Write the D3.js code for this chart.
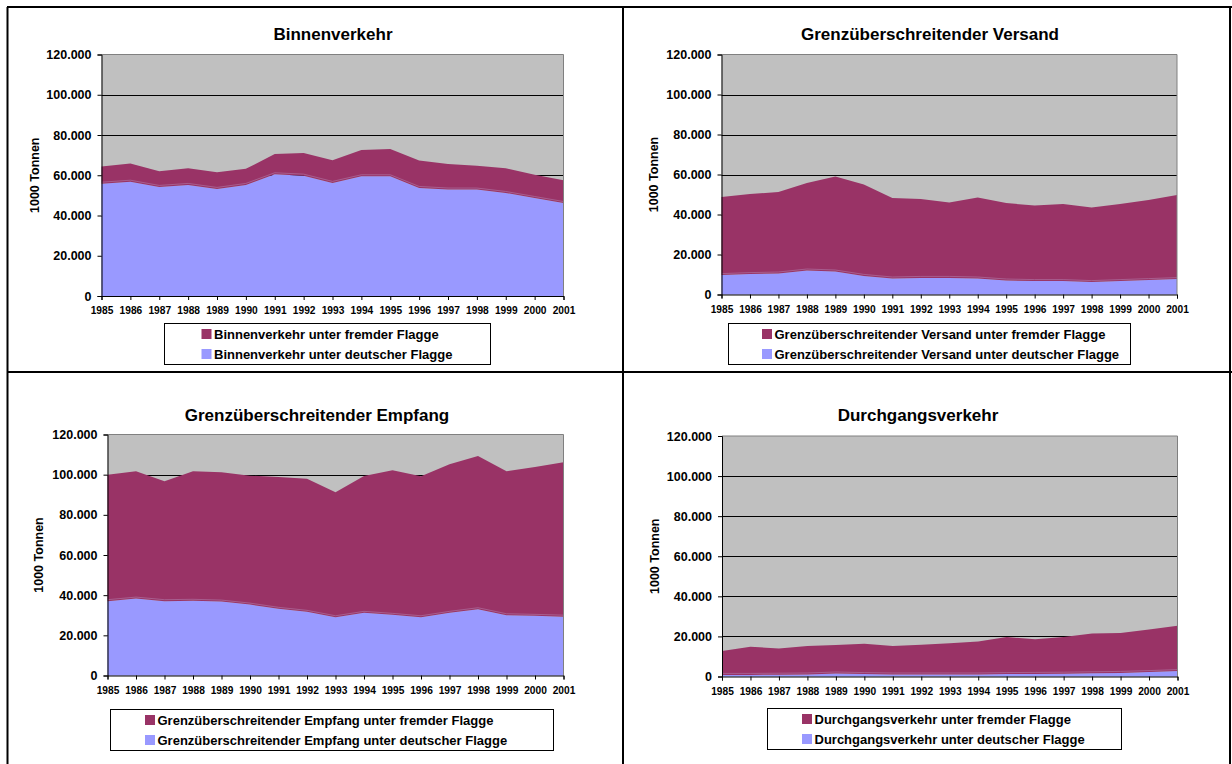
<!DOCTYPE html>
<html><head><meta charset="utf-8">
<script src="https://cdn.jsdelivr.net/npm/d3@7"></script>
<style>body{margin:0;background:#fff}svg{display:block}text{font-family:"Liberation Sans",Arial,sans-serif;font-weight:bold;fill:#000}</style>
</head><body><svg id="c" width="1232" height="764"></svg>
<script>
// ---- data (1000 Tonnen) ----
const years = ["1985","1986","1987","1988","1989","1990","1991","1992","1993","1994","1995","1996","1997","1998","1999","2000","2001"];
const yTicks = [0,20000,40000,60000,80000,100000,120000];
const yTickLabels = ["0","20.000","40.000","60.000","80.000","100.000","120.000"];
const yAxisTitle = "1000 Tonnen";

const binnenDeutsch = [55800,56800,54200,55200,53200,55200,60500,59800,56200,59500,59500,53700,52900,52900,51200,48700,46200];
const binnenFremd   = [8500,9000,7800,8300,8300,8000,10000,11300,11300,13000,13500,13600,12700,11800,12300,11600,11300];

const versandDeutsch = [9700,10200,10500,12000,11500,9300,8000,8300,8300,8000,7000,6700,6700,6200,6700,7200,7700];
const versandFremd   = [39000,40000,40700,43700,47500,45700,40200,39400,37700,40500,38700,37800,38500,37300,38600,40100,42000];

const empfangDeutsch = [37000,38300,37000,37200,36800,35300,33200,31700,29000,31200,30200,29000,31200,33000,30000,29700,29300];
const empfangFremd   = [63000,63400,59700,64500,64400,64200,65600,66300,62300,68100,72000,70200,74000,76300,71700,74100,76900];

const durchDeutsch = [800,800,900,1000,1500,1200,1000,1000,1000,1000,1200,1300,1400,1600,1800,2200,2700];
const durchFremd   = [11900,14000,13100,14200,14200,15100,14200,14800,15600,16500,18500,17300,18300,19900,19900,21200,22600];

const titles = ["Binnenverkehr","Grenzüberschreitender Versand","Grenzüberschreitender Empfang","Durchgangsverkehr"];
const legendFremd = ["Binnenverkehr unter fremder Flagge","Grenzüberschreitender Versand unter fremder Flagge","Grenzüberschreitender Empfang unter fremder Flagge","Durchgangsverkehr unter fremder Flagge"];
const legendDeutsch = ["Binnenverkehr unter deutscher Flagge","Grenzüberschreitender Versand unter deutscher Flagge","Grenzüberschreitender Empfang unter deutscher Flagge","Durchgangsverkehr unter deutscher Flagge"];

// ---- styles / layout ----
const colFremd = "#993366", colDeutsch = "#9999FF", colPlot = "#C0C0C0";
const panels = [
  {d: binnenDeutsch, f: binnenFremd, l:101.5, t:54.5, r:563.5, b:296, tx:333, ty:40, yl:35,
   lg:{x:164.5,y:323.5,w:326,h:41, sw:201.5}},
  {d: versandDeutsch, f: versandFremd, l:721.5, t:54.5, r:1177, b:294.5, tx:930, ty:40, yl:654,
   lg:{x:728.5,y:323.5,w:402,h:41, sw:762}},
  {d: empfangDeutsch, f: empfangFremd, l:107.5, t:434.5, r:563.5, b:675.5, tx:317, ty:421, yl:39,
   lg:{x:110.5,y:709.5,w:443,h:41, sw:145}},
  {d: durchDeutsch, f: durchFremd, l:722, t:436, r:1177.5, b:676.5, tx:918, ty:421, yl:655,
   lg:{x:767.5,y:708.5,w:354,h:41, sw:802}}
];

const svg = d3.select("#c");

panels.forEach((p, i) => {
  const g = svg.append("g");
  const x = d3.scalePoint().domain(years).range([p.l, p.r]);
  const y = d3.scaleLinear().domain([0,120000]).range([p.b, p.t]);
  const rows = years.map((yr, k) => ({year: yr, deutsch: p.d[k], fremd: p.f[k]}));
  const stack = d3.stack().keys(["deutsch","fremd"])(rows);

  g.append("rect").attr("x", p.l).attr("y", p.t).attr("width", p.r - p.l).attr("height", p.b - p.t).attr("fill", colPlot);
  g.selectAll(".grid").data(yTicks.filter(v => v > 0 && v < 120000)).join("line")
    .attr("x1", p.l).attr("x2", p.r).attr("y1", v => Math.round(y(v)) + 0.5).attr("y2", v => Math.round(y(v)) + 0.5)
    .attr("stroke", "#000").attr("stroke-width", 1);
  const area = d3.area().x(d => x(d.data.year)).y0(d => y(d[0])).y1(d => y(d[1]));
  g.selectAll(".layer").data(stack).join("path")
    .attr("d", area).attr("fill", (d, k) => k === 0 ? colDeutsch : colFremd);
  g.append("path").datum(stack[0])
    .attr("d", d3.line().x(d => x(d.data.year)).y(d => y(d[1]) - 1.5))
    .attr("fill", "none").attr("stroke", "#b07aa8").attr("stroke-width", 1).attr("opacity", 0.6);
  g.append("path").attr("d", `M${p.l},${p.t}H${p.r}V${p.b}`).attr("fill", "none").attr("stroke", "#808080").attr("stroke-width", 1);

  const yAxis = d3.axisLeft(y).tickValues(yTicks).tickFormat((v, k) => yTickLabels[k]).tickSize(4).tickPadding(6);
  const ya = g.append("g").attr("transform", `translate(${p.l},0)`).call(yAxis);
  ya.select(".domain").attr("stroke", "#000");
  ya.selectAll("text").style("font-size", "12.5px").style("font-weight", "bold").attr("fill", "#000");
  const xAxis = d3.axisBottom(x).tickSize(4).tickPadding(7);
  const xa = g.append("g").attr("transform", `translate(0,${p.b})`).call(xAxis);
  xa.select(".domain").attr("stroke", "#000");
  xa.selectAll("text").style("font-size", "10.2px").style("font-weight", "bold").attr("fill", "#000");

  g.append("text").attr("x", p.tx).attr("y", p.ty).attr("text-anchor", "middle").style("font-size", "17px").text(titles[i]);
  g.append("text").attr("transform", `translate(${p.yl},${(p.t + p.b) / 2}) rotate(-90)`).attr("text-anchor", "middle")
    .attr("dy", "0.35em").style("font-size", "12.5px").text(yAxisTitle);

  const lg = g.append("g");
  lg.append("rect").attr("x", p.lg.x).attr("y", p.lg.y).attr("width", p.lg.w).attr("height", p.lg.h)
    .attr("fill", "#fff").attr("stroke", "#000").attr("stroke-width", 1);
  const items = [{t: legendFremd[i], c: colFremd}, {t: legendDeutsch[i], c: colDeutsch}];
  items.forEach((it, k) => {
    const cy = p.lg.y + 10.5 + k * 20;
    lg.append("rect").attr("x", p.lg.sw).attr("y", cy - 5).attr("width", 10).attr("height", 10).attr("fill", it.c);
    lg.append("text").attr("x", p.lg.sw + 12.5).attr("y", cy).attr("dy", "0.36em").style("font-size", "13px").text(it.t);
  });
});

const frame = [[7,7,1232,7],[7.5,7,7.5,764],[623,7,623,764],[7,372,1232,372],[1230,7,1230,764]];
svg.selectAll(".frame").data(frame).join("line")
  .attr("x1", d => d[0]).attr("y1", d => d[1]).attr("x2", d => d[2]).attr("y2", d => d[3])
  .attr("stroke", "#000").attr("stroke-width", 2);
</script></body></html>
